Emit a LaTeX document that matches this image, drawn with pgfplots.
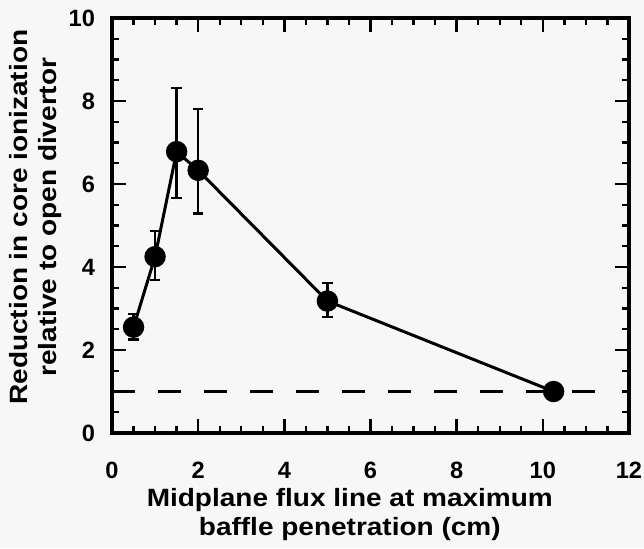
\documentclass[border=0pt]{standalone}
\usepackage{pgfplots}
\pgfplotsset{compat=1.18}
\usepackage{fontspec}
\setmainfont{Liberation Sans}
\newfontfamily\labfont[FakeStretch=1.12]{Liberation Sans}
\definecolor{bgc}{RGB}{247,247,247}
\pagecolor{bgc}

\begin{document}
\begin{tikzpicture}
\begin{axis}[
    name=ax, at={(0,0)}, anchor=south west,
    scale only axis, width=258.5pt, height=207.5pt,
    xmin=0, xmax=12, ymin=0, ymax=10,
    xtick={0,2,...,12}, ytick={0,2,...,10},
    minor x tick num=3, minor y tick num=3,
    tick align=inside, tick pos=both,
    major tick length=7pt, minor tick length=3.5pt,
    every tick/.style={line width=1.2pt, black},
    axis line style={line width=1.6pt},
    tick label style={font=\fontsize{11.8}{13}\selectfont\bfseries},
    /pgf/number format/assume math mode=true,
    xticklabel style={yshift=-11pt},
    yticklabel style={xshift=-5pt},
    xlabel={Midplane flux line at maximum\\baffle penetration (cm)},
    ylabel={Reduction in core ionization\\relative to open divertor},
    label style={font=\labfont\fontsize{12.5}{14.5}\selectfont\bfseries, align=center},
    xlabel style={at={(axis description cs:0.46,-0.197)}, anchor=center},
    ylabel style={at={(axis description cs:-0.148,0.52)}, anchor=center},
    clip=false,
]
\addplot[black, line width=1.7pt, dash pattern=on 11.5pt off 11.5pt]
    coordinates {(0,1) (11.25,1)};
\addplot[black, line width=1.5pt, mark=*, mark size=4.6pt,
    error bars/.cd, y dir=both, y explicit,
    error bar style={line width=1.2pt},
    error mark options={rotate=90, mark size=2.6pt, line width=1.2pt}]
    coordinates {
    (0.5,2.55) += (0,0.32) -= (0,0.3)
    (1.0,4.25) += (0,0.62) -= (0,0.57)
    (1.5,6.78) += (0,1.54) -= (0,1.12)
    (2.0,6.33) += (0,1.48) -= (0,1.04)
    (5.0,3.18) += (0,0.43) -= (0,0.38)
    (10.25,1.0) += (0,0) -= (0,0)
    };
\end{axis}
\pgfresetboundingbox
\path (-56pt,-57.5pt) rectangle (266pt,216.5pt);
\end{tikzpicture}
\end{document}
